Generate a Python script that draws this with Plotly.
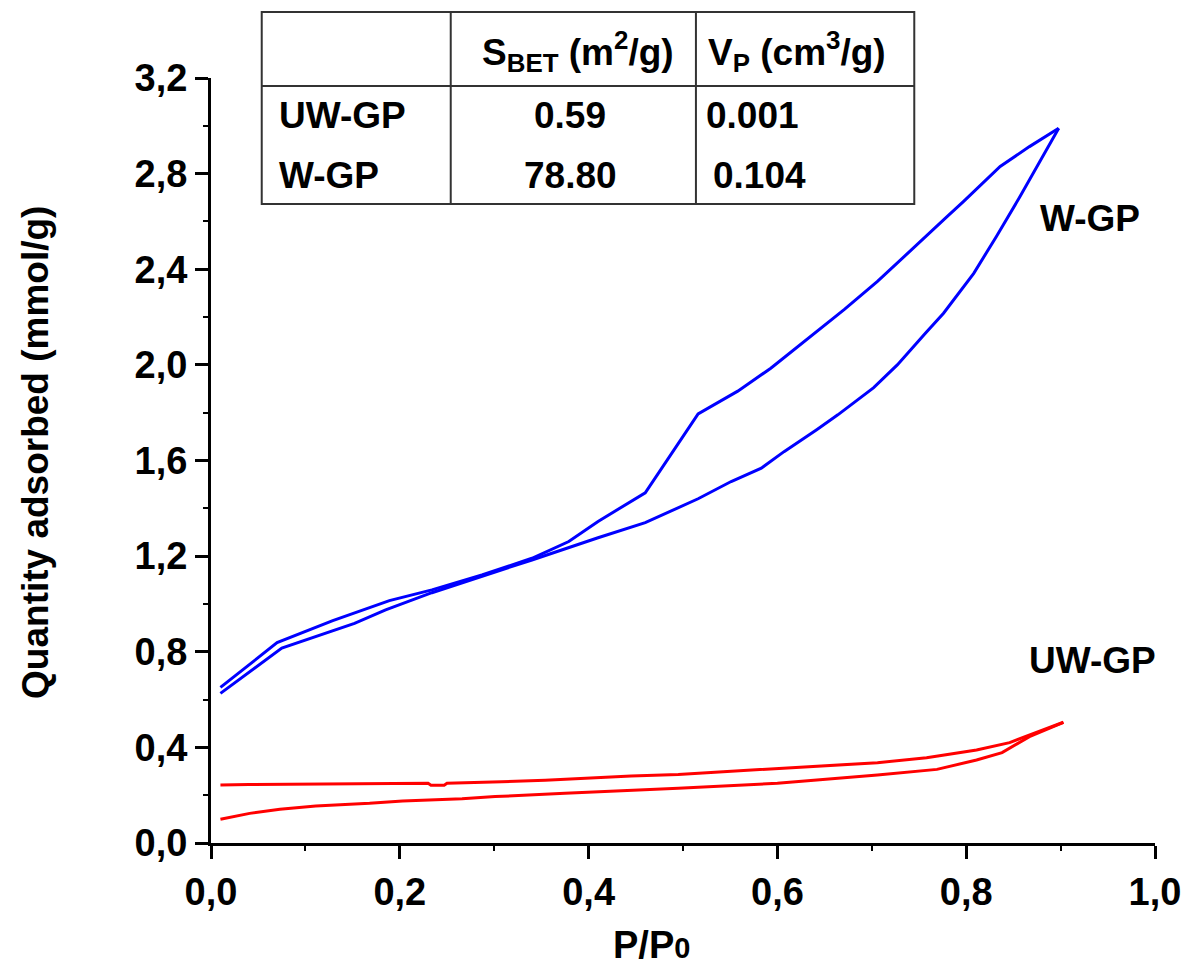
import plotly.graph_objects as go

# ---- data ----
w_ads_p = [0.010, 0.075, 0.152, 0.185, 0.234, 0.287, 0.340, 0.410, 0.460, 0.516, 0.551, 0.583,
           0.607, 0.642, 0.664, 0.702, 0.727, 0.757, 0.776, 0.808, 0.832, 0.857, 0.878, 0.898]
w_ads_q = [0.626, 0.815, 0.919, 0.975, 1.047, 1.114, 1.184, 1.277, 1.340, 1.440, 1.512, 1.568,
           1.637, 1.730, 1.791, 1.905, 2.000, 2.133, 2.216, 2.383, 2.537, 2.704, 2.851, 2.990]
w_des_p = [0.898, 0.867, 0.836, 0.815, 0.797, 0.780, 0.755, 0.730, 0.706, 0.671, 0.642, 0.621,
           0.593, 0.558, 0.516, 0.460, 0.410, 0.379, 0.340, 0.287, 0.234, 0.189, 0.129, 0.070, 0.010]
w_des_q = [2.990, 2.913, 2.830, 2.749, 2.683, 2.621, 2.530, 2.439, 2.349, 2.232, 2.140, 2.077,
           1.986, 1.890, 1.795, 1.465, 1.345, 1.261, 1.191, 1.121, 1.059, 1.014, 0.930, 0.838, 0.651]

uw_ads_p = [0.010, 0.041, 0.073, 0.111, 0.168, 0.203, 0.266, 0.301, 0.375, 0.445, 0.495, 0.600,
            0.706, 0.769, 0.811, 0.838, 0.867, 0.903]
uw_ads_q = [0.099, 0.124, 0.141, 0.155, 0.166, 0.176, 0.185, 0.194, 0.208, 0.219, 0.229, 0.250,
            0.284, 0.308, 0.347, 0.378, 0.445, 0.505]
uw_des_p = [0.903, 0.874, 0.846, 0.811, 0.758, 0.706, 0.600, 0.495, 0.445, 0.400, 0.354, 0.308,
            0.250, 0.247, 0.233, 0.230, 0.100, 0.040, 0.010]
uw_des_q = [0.505, 0.461, 0.420, 0.389, 0.357, 0.336, 0.310, 0.287, 0.280, 0.271, 0.263, 0.256,
            0.250, 0.242, 0.242, 0.250, 0.248, 0.245, 0.243]

x_ticks = [0.0, 0.2, 0.4, 0.6, 0.8, 1.0]
x_ticktext = ["0,0", "0,2", "0,4", "0,6", "0,8", "1,0"]
y_ticks = [0.0, 0.4, 0.8, 1.2, 1.6, 2.0, 2.4, 2.8, 3.2]
y_ticktext = ["0,0", "0,4", "0,8", "1,2", "1,6", "2,0", "2,4", "2,8", "3,2"]

table_samples = ["UW-GP", "W-GP"]
table_sbet = ["0.59", "78.80"]
table_vp = ["0.001", "0.104"]

FONT = "Liberation Sans, Arial, sans-serif"

fig = go.Figure()
fig.add_trace(go.Scatter(x=w_ads_p, y=w_ads_q, mode="lines",
                         line=dict(color="#0000FF", width=3), showlegend=False))
fig.add_trace(go.Scatter(x=w_des_p, y=w_des_q, mode="lines",
                         line=dict(color="#0000FF", width=3), showlegend=False))
fig.add_trace(go.Scatter(x=uw_ads_p, y=uw_ads_q, mode="lines",
                         line=dict(color="#FF0000", width=3), showlegend=False))
fig.add_trace(go.Scatter(x=uw_des_p, y=uw_des_q, mode="lines",
                         line=dict(color="#FF0000", width=3), showlegend=False))

L, R, T, B = 211, 33, 78, 125
W, H = 1193, 968
PW, PH = W - L - R, H - T - B

def px(xp):
    return (xp - L) / PW

def py(yp):
    return (H - B - yp) / PH

# table
tl, tr, tt, tb = 262, 918, 12, 204
hdr, c1, c2 = 86, 452, 698.5
line = dict(color="#333333", width=2)
fig.add_shape(type="rect", xref="paper", yref="paper", x0=px(tl), x1=px(tr), y0=py(tb), y1=py(tt),
              line=line, fillcolor="white", layer="above")
fig.add_shape(type="line", xref="paper", yref="paper", x0=px(tl), x1=px(tr), y0=py(hdr), y1=py(hdr), line=line)
fig.add_shape(type="line", xref="paper", yref="paper", x0=px(c1), x1=px(c1), y0=py(tb), y1=py(tt), line=line)
fig.add_shape(type="line", xref="paper", yref="paper", x0=px(c2), x1=px(c2), y0=py(tb), y1=py(tt), line=line)

tfont = dict(family=FONT, size=37, color="black", weight="bold")
def ann(text, x, y, xanchor="center", **kw):
    fig.add_annotation(text=text, x=x, y=y, xref="paper", yref="paper", xanchor=xanchor,
                       yanchor="middle", showarrow=False, font=tfont, **kw)

ann("S<sub>BET</sub> (m<sup>2</sup>/g)", px(580), py(52))
ann("V<sub>P</sub> (cm<sup>3</sup>/g)", px(800), py(52))
row_y = [115, 175]
for i in range(2):
    ann(table_samples[i], px(277), py(row_y[i]), xanchor="left")
    ann(table_sbet[i], px(572), py(row_y[i]))
    ann(table_vp[i], px(707 + 7 * i), py(row_y[i]), xanchor="left")

# curve labels
fig.add_annotation(text="W-GP", x=0.931, y=2.613, xref="x", yref="y", showarrow=False,
                   xanchor="center", yanchor="middle", font=tfont)
fig.add_annotation(text="UW-GP", x=0.934, y=0.762, xref="x", yref="y", showarrow=False,
                   xanchor="center", yanchor="middle", font=tfont)

# axis titles
fig.add_annotation(text="Quantity adsorbed (mmol/g)", x=px(34), y=py(452), xref="paper", yref="paper",
                   xanchor="center", yanchor="middle",
                   textangle=-90, showarrow=False, font=dict(family=FONT, size=37, color="black", weight="bold"))
fig.add_annotation(text="P/P<span style='font-size:29px'>0</span>", x=px(654), y=py(945), xref="paper", yref="paper",
                   xanchor="center", yanchor="middle",
                   showarrow=False, font=dict(family=FONT, size=38, color="black", weight="bold"))

axis_common = dict(showline=True, linewidth=3, linecolor="black", ticks="outside", ticklen=13,
                   tickwidth=2.5, tickcolor="black", showgrid=False, zeroline=False,
                   tickfont=dict(family=FONT, size=38, color="black", weight="bold"))

fig.update_xaxes(range=[0, 1.0], tickvals=x_ticks, ticktext=x_ticktext,
                 minor=dict(ticks="outside", ticklen=5, tickwidth=2, tickcolor="black", dtick=0.1, tick0=0),
                 **axis_common)
fig.update_yaxes(range=[0, 3.2], tickvals=y_ticks, ticktext=y_ticktext,
                 minor=dict(ticks="outside", ticklen=5, tickwidth=2, tickcolor="black", dtick=0.2, tick0=0),
                 **axis_common)

fig.update_layout(width=W, height=H, margin=dict(l=L, r=R, t=T, b=B),
                  plot_bgcolor="white", paper_bgcolor="white",
                  font=dict(family=FONT, color="black"))

fig.write_html("out.html")
